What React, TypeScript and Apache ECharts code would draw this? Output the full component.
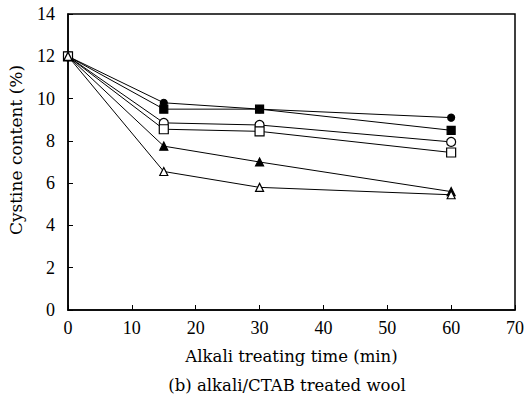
import React, { useEffect, useRef } from "react";
import * as echarts from "echarts";

const times = [0, 15, 30, 60];
const filledCircle = [12, 9.8, 9.5, 9.1];
const filledSquare = [12, 9.5, 9.5, 8.5];
const openCircle = [12, 8.85, 8.75, 7.95];
const openSquare = [12, 8.55, 8.45, 7.45];
const filledTriangle = [12, 7.75, 7.0, 5.6];
const openTriangle = [12, 6.55, 5.8, 5.45];

const SERIF = "'DejaVu Serif', 'Liberation Serif', serif";
const NUM = "'Liberation Serif', 'DejaVu Serif', serif";

function mk(name: string, data: number[], symbol: string, filled: boolean, size: number) {
  return {
    name,
    type: "line",
    data: times.map((t, i) => [t, data[i]]),
    symbol,
    symbolSize: size,
    showAllSymbol: true,
    lineStyle: { color: "#000", width: 1 },
    itemStyle: { color: filled ? "#000" : "#fff", borderColor: "#000", borderWidth: 1.2 },
    z: 3,
  };
}

export default function App() {
  const ref = useRef<HTMLDivElement>(null);
  useEffect(() => {
    const chart = echarts.init(ref.current!, null, { renderer: "svg" });
    chart.setOption({
      animation: false,
      backgroundColor: "#fff",
      textStyle: { fontFamily: SERIF },
      grid: { left: 68, top: 14, right: 11, bottom: 91, show: true, borderColor: "#000", borderWidth: 1.5 },
      xAxis: {
        type: "value",
        min: 0,
        max: 70,
        interval: 10,
        name: "Alkali treating time (min)",
        nameLocation: "middle",
        nameGap: 38,
        nameTextStyle: { fontFamily: SERIF, fontSize: 16.5, color: "#000" },
        axisLine: { show: true, lineStyle: { color: "#000", width: 1.5 } },
        axisTick: { show: true, inside: true, length: 5, lineStyle: { color: "#000" } },
        axisLabel: { fontFamily: NUM, fontSize: 18, color: "#000", margin: 9 },
        splitLine: { show: false },
      },
      yAxis: {
        type: "value",
        min: 0,
        max: 14,
        interval: 2,
        axisLine: { show: true, lineStyle: { color: "#000", width: 1.5 } },
        axisTick: { show: true, inside: true, length: 5, lineStyle: { color: "#000" } },
        axisLabel: { fontFamily: NUM, fontSize: 18, color: "#000", margin: 13 },
        splitLine: { show: false },
      },
      graphic: [
        {
          type: "text",
          x: 16,
          y: 150,
          rotation: Math.PI / 2,
          style: {
            text: "Cystine content (%)",
            fontFamily: SERIF,
            fontSize: 17,
            fill: "#000",
            textAlign: "center",
            textVerticalAlign: "middle",
          },
        },
        {
          type: "text",
          x: 287,
          y: 385,
          style: {
            text: "(b) alkali/CTAB treated wool",
            fontFamily: SERIF,
            fontSize: 16.5,
            fill: "#000",
            textAlign: "center",
            textVerticalAlign: "middle",
          },
        },
      ],
      series: [
        mk("filledCircle", filledCircle, "circle", true, 7),
        mk("filledSquare", filledSquare, "rect", true, 8),
        mk("openCircle", openCircle, "circle", false, 9),
        mk("openSquare", openSquare, "rect", false, 9),
        mk("filledTriangle", filledTriangle, "triangle", true, 8),
        mk("openTriangle", openTriangle, "triangle", false, 8),
      ],
    });
    return () => chart.dispose();
  }, []);
  return <div ref={ref} style={{ width: 527, height: 401, position: "absolute", left: 0, top: 0 }} />;
}
